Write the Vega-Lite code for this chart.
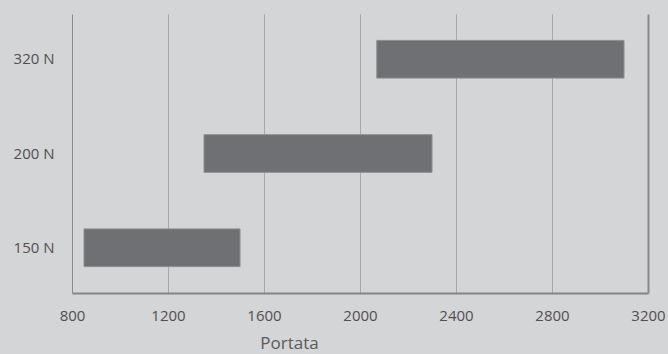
{
  "$schema": "https://vega.github.io/schema/vega-lite/v6.json",
  "autosize": "none",
  "width": 576,
  "height": 279,
  "padding": {"left": 72, "top": 14, "right": 20, "bottom": 61},
  "background": "#d4d5d7",
  "config": {
    "view": {"stroke": null},
    "font": "Open Sans"
  },
  "data": {
    "values": [
      {"carico": "320 N", "min": 2070, "max": 3100},
      {"carico": "200 N", "min": 1350, "max": 2300},
      {"carico": "150 N", "min": 850, "max": 1500}
    ]
  },
  "mark": {"type": "bar", "color": "#6f7073", "stroke": "#8d8e90", "strokeWidth": 1},
  "encoding": {
    "y": {
      "field": "carico",
      "type": "nominal",
      "sort": ["320 N", "200 N", "150 N"],
      "scale": {"paddingInner": 0.6, "paddingOuter": 0.28},
      "axis": {
        "title": null,
        "domain": false,
        "ticks": false,
        "grid": false,
        "labelPadding": 18,
        "labelFontSize": 15,
        "labelColor": "#505050"
      }
    },
    "x": {
      "field": "min",
      "type": "quantitative",
      "scale": {"domain": [800, 3200], "nice": false},
      "axis": {
        "title": "Portata",
        "values": [800, 1200, 1600, 2000, 2400, 2800, 3200],
        "format": "d",
        "ticks": false,
        "domainColor": "#858585",
        "domainWidth": 2,
        "grid": true,
        "gridColor": {"condition": {"test": "datum.value == 800 || datum.value == 3200", "value": "#8a8a8a"}, "value": "#a7a8aa"},
        "gridWidth": {"condition": {"test": "datum.value == 3200", "value": 2}, "value": 1},
        "labelPadding": 15,
        "labelFontSize": 15,
        "labelColor": "#505050",
        "labelFlush": false,
        "titleFontSize": 17,
        "titleFontWeight": "normal",
        "titleColor": "#5a5a5a",
        "titleX": 217,
        "titleY": 42,
        "titleBaseline": "top"
      }
    },
    "x2": {"field": "max"}
  }
}
